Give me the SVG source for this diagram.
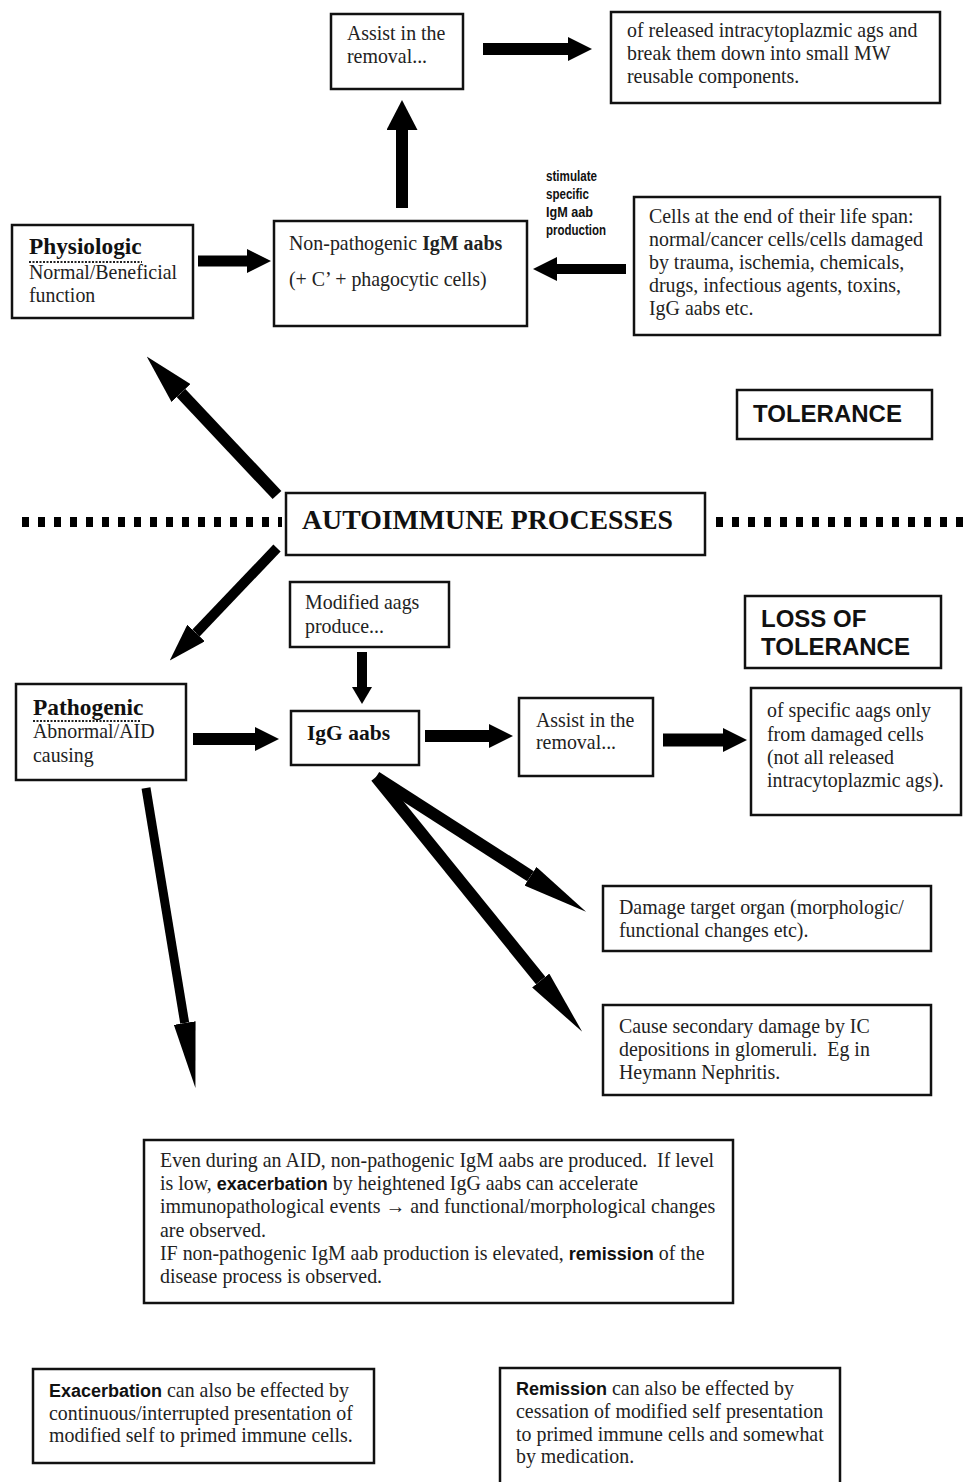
<svg xmlns="http://www.w3.org/2000/svg" width="964" height="1482" viewBox="0 0 964 1482">
<style>
  .box{fill:#fff;stroke:#111;stroke-width:2.5}
  .t{font-family:"Liberation Serif","Times New Roman",serif;font-size:19.9px;fill:#222}
  .tb{font-family:"Liberation Serif","Times New Roman",serif;font-weight:bold;fill:#111}
  .sb{font-family:"Liberation Sans",Arial,sans-serif;font-weight:bold;fill:#111}
  .nar{font-family:"Liberation Sans Narrow","Liberation Sans",Arial,sans-serif;font-weight:bold;font-size:14px;fill:#111}
  .sh{stroke:#000;fill:none;stroke-linecap:butt}
  .ul{stroke:#222;stroke-width:2;stroke-dasharray:2 1.5}
  .dots{stroke:#000;stroke-width:10;stroke-dasharray:7 9}
</style>
<defs>
  <marker id="m1" markerUnits="userSpaceOnUse" viewBox="0 0 24 24" markerWidth="24" markerHeight="24" refX="0" refY="12" orient="auto"><path d="M0,0 L24,12 L0,24 z" fill="#000"/></marker>
  <marker id="m2" markerUnits="userSpaceOnUse" viewBox="0 0 30 31" markerWidth="30" markerHeight="31" refX="0" refY="15.5" orient="auto"><path d="M0,0 L30,15.5 L0,31 z" fill="#000"/></marker>
  <marker id="m3" markerUnits="userSpaceOnUse" viewBox="0 0 17 20" markerWidth="17" markerHeight="20" refX="0" refY="10" orient="auto"><path d="M0,0 L17,10 L0,20 z" fill="#000"/></marker>
  <marker id="m4" markerUnits="userSpaceOnUse" viewBox="0 0 50 26" markerWidth="50" markerHeight="26" refX="0" refY="13" orient="auto"><path d="M0,0 L50,13 L0,26 z" fill="#000"/></marker>
  <marker id="m6" markerUnits="userSpaceOnUse" viewBox="0 0 38 24" markerWidth="38" markerHeight="24" refX="0" refY="12" orient="auto"><path d="M0,0 L38,12 L0,24 z" fill="#000"/></marker>
  <marker id="m5" markerUnits="userSpaceOnUse" viewBox="0 0 66 22" markerWidth="66" markerHeight="22" refX="0" refY="11" orient="auto"><path d="M0,0 L66,11 L0,22 z" fill="#000"/></marker>
</defs>
<rect width="964" height="1482" fill="#fff"/>

<g id="divider">
  <line class="dots" x1="22" y1="522" x2="282" y2="522"/>
  <line class="dots" x1="716" y1="522" x2="964" y2="522"/>
</g>

<g id="connectors">
  <line class="sh" stroke-width="12" x1="483" y1="49" x2="568" y2="49" marker-end="url(#m1)"/>
  <line class="sh" stroke-width="12" x1="402" y1="208" x2="402" y2="130" marker-end="url(#m2)"/>
  <line class="sh" stroke-width="11" x1="198" y1="261" x2="247" y2="261" marker-end="url(#m1)"/>
  <line class="sh" stroke-width="10" x1="626" y1="269" x2="557" y2="269" marker-end="url(#m1)"/>
  <line class="sh" stroke-width="12" x1="193" y1="739" x2="255" y2="739" marker-end="url(#m1)"/>
  <line class="sh" stroke-width="12" x1="425" y1="736" x2="489" y2="736" marker-end="url(#m1)"/>
  <line class="sh" stroke-width="13" x1="663" y1="740" x2="723" y2="740" marker-end="url(#m1)"/>
  <line class="sh" stroke-width="10" x1="362" y1="652" x2="362" y2="687" marker-end="url(#m3)"/>
  <line class="sh" stroke-width="12" x1="277" y1="495" x2="181" y2="393" marker-end="url(#m4)"/>
  <line class="sh" stroke-width="10" x1="277" y1="548" x2="196" y2="633" marker-end="url(#m6)"/>
  <line class="sh" stroke-width="9" x1="146" y1="788" x2="184.7" y2="1023" marker-end="url(#m5)"/>
  <line class="sh" stroke-width="12" x1="376" y1="777" x2="530.5" y2="876.2" marker-end="url(#m5)"/>
  <line class="sh" stroke-width="12" x1="376" y1="777" x2="540.7" y2="980.5" marker-end="url(#m5)"/>
</g>

<g id="assist-top">
  <rect class="box" x="331" y="14" width="132" height="75"/>
  <text class="t" x="347" y="40">Assist in the</text>
  <text class="t" x="347" y="63">removal...</text>
</g>

<g id="released">
  <rect class="box" x="611" y="12" width="329" height="91"/>
  <text class="t" x="627" y="37">of released intracytoplazmic ags and</text>
  <text class="t" x="627" y="60">break them down into small MW</text>
  <text class="t" x="627" y="83">reusable components.</text>
</g>

<g id="stimulate-label">
  <text class="nar" x="546" y="181" textLength="51" lengthAdjust="spacingAndGlyphs">stimulate</text>
  <text class="nar" x="546" y="199" textLength="43" lengthAdjust="spacingAndGlyphs">specific</text>
  <text class="nar" x="546" y="217" textLength="47" lengthAdjust="spacingAndGlyphs">IgM aab</text>
  <text class="nar" x="546" y="235" textLength="60" lengthAdjust="spacingAndGlyphs">production</text>
</g>

<g id="physiologic">
  <rect class="box" x="12" y="225" width="181" height="93"/>
  <text class="tb" x="29" y="254" font-size="23.3">Physiologic</text>
  <line class="ul" x1="29" y1="262" x2="142" y2="262"/>
  <text class="t" x="29" y="279">Normal/Beneficial</text>
  <text class="t" x="29" y="302">function</text>
</g>

<g id="igm">
  <rect class="box" x="274" y="221" width="253" height="105"/>
  <text class="t" x="289" y="250" font-size="21.4">Non-pathogenic <tspan font-weight="bold">IgM aabs</tspan></text>
  <text class="t" x="289" y="286" font-size="20.6">(+ C’ + phagocytic cells)</text>
</g>

<g id="cells">
  <rect class="box" x="634" y="197" width="306" height="138"/>
  <text class="t" x="649" y="223">Cells at the end of their life span:</text>
  <text class="t" x="649" y="246">normal/cancer cells/cells damaged</text>
  <text class="t" x="649" y="269">by trauma, ischemia, chemicals,</text>
  <text class="t" x="649" y="292">drugs, infectious agents, toxins,</text>
  <text class="t" x="649" y="315">IgG aabs etc.</text>
</g>

<g id="tolerance">
  <rect class="box" x="737" y="390" width="195" height="49"/>
  <text class="sb" x="753" y="422" font-size="24">TOLERANCE</text>
</g>

<g id="autoimmune">
  <rect class="box" x="286" y="493" width="419" height="62"/>
  <text class="tb" x="302" y="529" font-size="27.8">AUTOIMMUNE PROCESSES</text>
</g>

<g id="modified">
  <rect class="box" x="290" y="582" width="159" height="65"/>
  <text class="t" x="305" y="609">Modified aags</text>
  <text class="t" x="305" y="633">produce...</text>
</g>

<g id="loss-tolerance">
  <rect class="box" x="745" y="596" width="196" height="72"/>
  <text class="sb" x="761" y="627" font-size="24">LOSS OF</text>
  <text class="sb" x="761" y="655" font-size="24">TOLERANCE</text>
</g>

<g id="pathogenic">
  <rect class="box" x="16" y="684" width="170" height="96"/>
  <text class="tb" x="33" y="715" font-size="23.4">Pathogenic</text>
  <line class="ul" x1="33" y1="721" x2="140" y2="721"/>
  <text class="t" x="33" y="738">Abnormal/AID</text>
  <text class="t" x="33" y="762">causing</text>
</g>

<g id="igg">
  <rect class="box" x="291" y="711" width="128" height="54"/>
  <text class="tb" x="307" y="740" font-size="21.5">IgG aabs</text>
</g>

<g id="assist-bottom">
  <rect class="box" x="519" y="698" width="134" height="78"/>
  <text class="t" x="536" y="727">Assist in the</text>
  <text class="t" x="536" y="749">removal...</text>
</g>

<g id="specific">
  <rect class="box" x="751" y="688" width="210" height="127"/>
  <text class="t" x="767" y="717">of specific aags only</text>
  <text class="t" x="767" y="741">from damaged cells</text>
  <text class="t" x="767" y="764">(not all released</text>
  <text class="t" x="767" y="787">intracytoplazmic ags).</text>
</g>

<g id="damage">
  <rect class="box" x="603" y="886" width="328" height="65"/>
  <text class="t" x="619" y="914">Damage target organ (morphologic/</text>
  <text class="t" x="619" y="937">functional changes etc).</text>
</g>

<g id="secondary">
  <rect class="box" x="603" y="1005" width="328" height="90"/>
  <text class="t" x="619" y="1033">Cause secondary damage by IC</text>
  <text class="t" x="619" y="1056" xml:space="preserve">depositions in glomeruli.  Eg in</text>
  <text class="t" x="619" y="1079">Heymann Nephritis.</text>
</g>

<g id="even-during">
  <rect class="box" x="144" y="1140" width="589" height="163"/>
  <text class="t" x="160" y="1167" xml:space="preserve">Even during an AID, non-pathogenic IgM aabs are produced.  If level</text>
  <text class="t" x="160" y="1190">is low, <tspan class="sb" font-size="18">exacerbation</tspan> by heightened IgG aabs can accelerate</text>
  <text class="t" x="160" y="1213">immunopathological events → and functional/morphological changes</text>
  <text class="t" x="160" y="1237">are observed.</text>
  <text class="t" x="160" y="1260">IF non-pathogenic IgM aab production is elevated, <tspan class="sb" font-size="18">remission</tspan> of the</text>
  <text class="t" x="160" y="1283">disease process is observed.</text>
</g>

<g id="exacerbation">
  <rect class="box" x="33" y="1369" width="341" height="94"/>
  <text class="t" x="49" y="1397"><tspan class="sb" font-size="18">Exacerbation</tspan> can also be effected by</text>
  <text class="t" x="49" y="1420">continuous/interrupted presentation of</text>
  <text class="t" x="49" y="1442">modified self to primed immune cells.</text>
</g>

<g id="remission">
  <rect class="box" x="500" y="1368" width="340" height="120"/>
  <text class="t" x="516" y="1395"><tspan class="sb" font-size="18">Remission</tspan> can also be effected by</text>
  <text class="t" x="516" y="1418">cessation of modified self presentation</text>
  <text class="t" x="516" y="1441">to primed immune cells and somewhat</text>
  <text class="t" x="516" y="1463">by medication.</text>
</g>
</svg>
